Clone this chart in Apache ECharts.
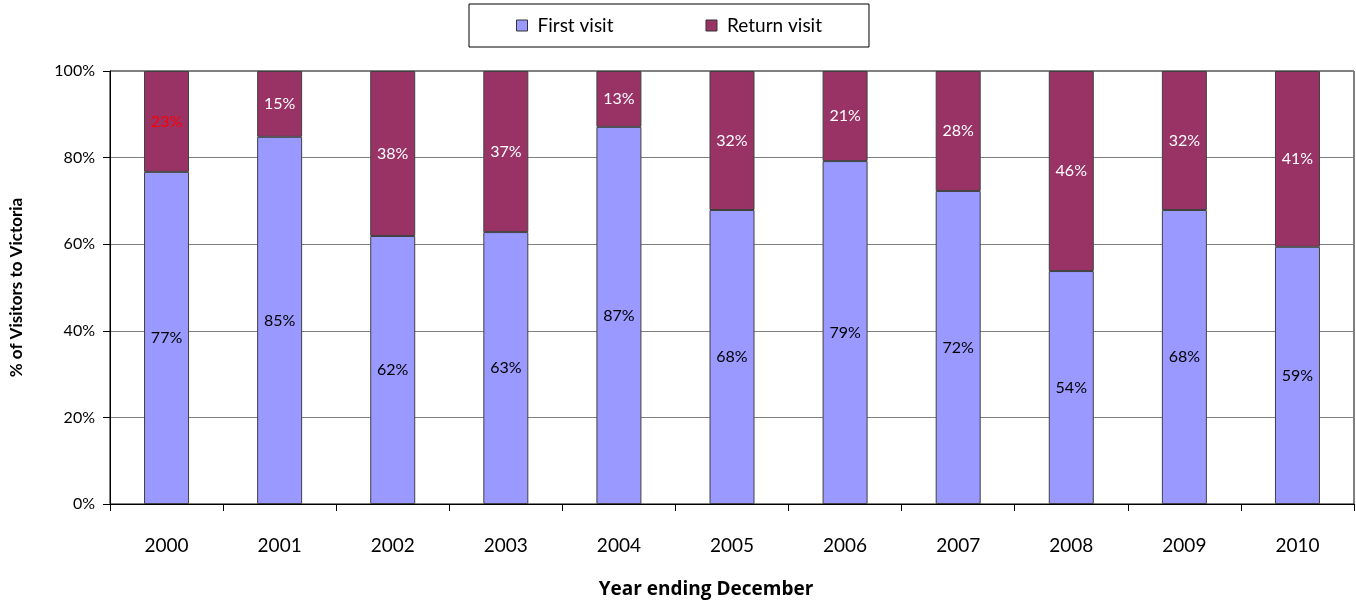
<!DOCTYPE html>
<html lang="en">
<head>
  <meta charset="utf-8" />
  <title>First vs return visitors to Victoria</title>
  <script src="https://cdn.jsdelivr.net/npm/echarts@6.0.0/dist/echarts.min.js"></script>
  <style>
    html, body { margin: 0; padding: 0; background: #fff; }
    #chart { width: 1356px; height: 605px; }
  </style>
</head>
<body>
<div id="chart"></div>
<script type="text/javascript">
  // data (share of visitors, %)
  var years = ['2000', '2001', '2002', '2003', '2004', '2005', '2006', '2007', '2008', '2009', '2010'];
  var firstVisit = [76.7, 84.8, 61.9, 62.8, 87.1, 67.9, 79.2, 72.3, 53.8, 67.9, 59.4];
  var returnVisit = [23.3, 15.2, 38.1, 37.2, 12.9, 32.1, 20.8, 27.7, 46.2, 32.1, 40.6];
  var yTicks = [0, 20, 40, 60, 80, 100];

  var font = 'Lato, "Open Sans", sans-serif';
  var chart = echarts.init(document.getElementById('chart'));

  var option = {
    animation: false,
    textStyle: { fontFamily: font },
    legend: {
      left: 469,
      top: 4,
      padding: [12, 47, 12, 47],
      itemGap: 92,
      itemWidth: 11,
      itemHeight: 11,
      icon: 'rect',
      itemStyle: { borderColor: '#333', borderWidth: 1 },
      borderColor: '#000',
      borderWidth: 1,
      textStyle: { fontSize: 19, color: '#000', fontFamily: font, padding: [0, 0, 0, 5] },
      data: ['First visit', 'Return visit']
    },
    grid: {
      left: 110,
      right: 2,
      top: 71,
      bottom: 101,
      outerBoundsMode: 'none',
      show: true,
      borderColor: '#000',
      borderWidth: 1
    },
    xAxis: {
      type: 'category',
      data: years,
      name: 'Year ending December',
      nameLocation: 'middle',
      nameGap: 76,
      nameTextStyle: {
        fontSize: 19, fontWeight: 'bold', color: '#000',
        fontFamily: '"Open Sans", sans-serif', padding: [0, 52, 0, 0]
      },
      axisLine: { lineStyle: { color: '#000' } },
      axisTick: { show: true, length: 7, lineStyle: { color: '#000' } },
      axisLabel: { fontSize: 19, color: '#000', margin: 32 }
    },
    yAxis: {
      type: 'value',
      min: yTicks[0],
      max: yTicks[yTicks.length - 1],
      interval: 20,
      name: '% of Visitors to Victoria',
      nameLocation: 'middle',
      nameGap: 85,
      nameTextStyle: { fontSize: 17, fontWeight: 'bold', color: '#000' },
      axisLine: { show: true, lineStyle: { color: '#000' } },
      axisTick: { show: true, length: 7, lineStyle: { color: '#000' } },
      axisLabel: { fontSize: 16, color: '#000', margin: 15, formatter: '{value}%' },
      splitLine: { show: true, lineStyle: { color: '#808080', width: 1 } }
    },
    series: [
      {
        name: 'First visit',
        type: 'bar',
        stack: 'visits',
        barWidth: 45,
        data: firstVisit,
        itemStyle: { color: '#9999FF', borderColor: '#404040', borderWidth: 1 },
        label: {
          show: true,
          position: 'inside',
          fontSize: 16,
          color: '#000',
          formatter: function (p) { return Math.round(p.value) + '%'; }
        }
      },
      {
        name: 'Return visit',
        type: 'bar',
        stack: 'visits',
        barWidth: 45,
        data: returnVisit.map(function (v, i) {
          // the 2000 label is printed in red in the original
          if (i === 0) return { value: v, label: { color: '#FF0000' } };
          return v;
        }),
        itemStyle: { color: '#993366', borderColor: '#404040', borderWidth: 1 },
        label: {
          show: true,
          position: 'inside',
          fontSize: 16,
          color: '#fff',
          formatter: function (p) { return Math.round(p.value) + '%'; }
        }
      }
    ]
  };
  chart.setOption(option);
</script>
</body>
</html>
